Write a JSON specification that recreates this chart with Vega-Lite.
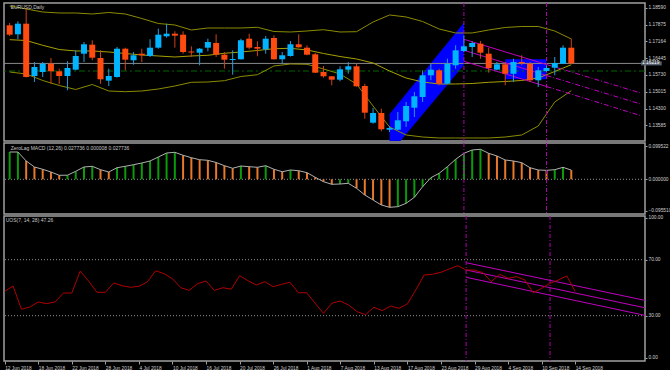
{
  "$schema": "https://vega.github.io/schema/vega-lite/v6.json",
  "background": "#000000",
  "padding": {"left": 1, "top": 1, "right": 0, "bottom": 0},
  "spacing": 2,
  "bounds": "flush",
  "config": {
    "view": {"stroke": "#a0a0a0", "strokeWidth": 1.5, "fill": "#000000"},
    "axis": {"labelFont": "Liberation Sans", "labelFontSize": 4.8, "labelColor": "#d0d0d0", "tickColor": "#a0a0a0", "domainColor": "#a0a0a0", "grid": false, "title": null, "labelOverlap": false},
    "text": {"font": "Liberation Sans", "fontSize": 5}
  },
  "datasets": {
    "candles": [
      {"i":0,"o":1.17841,"h":1.17939,"l":1.17386,"c":1.17441},
      {"i":1,"o":1.17458,"h":1.18012,"l":1.17246,"c":1.17909},
      {"i":2,"o":1.17909,"h":1.18548,"l":1.15620,"c":1.15641},
      {"i":3,"o":1.15684,"h":1.16279,"l":1.15428,"c":1.16067},
      {"i":4,"o":1.15854,"h":1.16279,"l":1.15641,"c":1.16207},
      {"i":5,"o":1.16207,"h":1.16450,"l":1.15356,"c":1.15884},
      {"i":6,"o":1.15884,"h":1.15994,"l":1.15330,"c":1.15684},
      {"i":7,"o":1.15684,"h":1.16309,"l":1.15075,"c":1.16024},
      {"i":8,"o":1.15952,"h":1.16777,"l":1.15926,"c":1.16535},
      {"i":9,"o":1.16633,"h":1.17131,"l":1.16279,"c":1.17033},
      {"i":10,"o":1.17016,"h":1.17203,"l":1.16352,"c":1.16462},
      {"i":11,"o":1.16450,"h":1.16777,"l":1.15356,"c":1.15543},
      {"i":12,"o":1.15484,"h":1.15994,"l":1.15258,"c":1.15684},
      {"i":13,"o":1.15641,"h":1.16918,"l":1.15620,"c":1.16845},
      {"i":14,"o":1.16845,"h":1.16888,"l":1.15926,"c":1.16377},
      {"i":15,"o":1.16352,"h":1.16705,"l":1.16164,"c":1.16565},
      {"i":16,"o":1.16633,"h":1.16845,"l":1.16279,"c":1.16565},
      {"i":17,"o":1.16535,"h":1.17246,"l":1.16492,"c":1.16888},
      {"i":18,"o":1.16888,"h":1.17697,"l":1.16845,"c":1.17441},
      {"i":19,"o":1.17373,"h":1.17909,"l":1.17314,"c":1.17484},
      {"i":20,"o":1.17484,"h":1.17586,"l":1.16888,"c":1.17399},
      {"i":21,"o":1.17441,"h":1.17586,"l":1.16633,"c":1.16705},
      {"i":22,"o":1.16726,"h":1.16948,"l":1.16492,"c":1.16684},
      {"i":23,"o":1.16675,"h":1.16875,"l":1.16139,"c":1.16845},
      {"i":24,"o":1.16888,"h":1.17271,"l":1.16735,"c":1.17131},
      {"i":25,"o":1.17088,"h":1.17458,"l":1.16492,"c":1.16590},
      {"i":26,"o":1.16590,"h":1.16705,"l":1.15994,"c":1.16377},
      {"i":27,"o":1.16365,"h":1.16777,"l":1.15739,"c":1.16407},
      {"i":28,"o":1.16394,"h":1.17271,"l":1.16386,"c":1.17203},
      {"i":29,"o":1.17271,"h":1.17484,"l":1.16820,"c":1.16888},
      {"i":30,"o":1.16918,"h":1.17160,"l":1.16522,"c":1.16845},
      {"i":31,"o":1.16820,"h":1.17386,"l":1.16633,"c":1.17271},
      {"i":32,"o":1.17301,"h":1.17416,"l":1.16386,"c":1.16394},
      {"i":33,"o":1.16394,"h":1.16705,"l":1.16207,"c":1.16565},
      {"i":34,"o":1.16535,"h":1.17173,"l":1.16513,"c":1.17033},
      {"i":35,"o":1.17033,"h":1.17458,"l":1.16888,"c":1.16905},
      {"i":36,"o":1.16888,"h":1.16990,"l":1.16565,"c":1.16590},
      {"i":37,"o":1.16607,"h":1.16662,"l":1.15811,"c":1.15824},
      {"i":38,"o":1.15854,"h":1.16109,"l":1.15611,"c":1.15671},
      {"i":39,"o":1.15671,"h":1.15684,"l":1.15288,"c":1.15526},
      {"i":40,"o":1.15526,"h":1.16096,"l":1.15458,"c":1.15969},
      {"i":41,"o":1.15952,"h":1.16279,"l":1.15781,"c":1.16096},
      {"i":42,"o":1.16096,"h":1.16207,"l":1.15237,"c":1.15245},
      {"i":43,"o":1.15258,"h":1.15356,"l":1.13866,"c":1.14122},
      {"i":44,"o":1.13696,"h":1.14322,"l":1.13653,"c":1.14109},
      {"i":45,"o":1.14109,"h":1.14292,"l":1.13330,"c":1.13415},
      {"i":46,"o":1.13398,"h":1.13556,"l":1.13300,"c":1.13470},
      {"i":47,"o":1.13398,"h":1.14151,"l":1.13385,"c":1.13798},
      {"i":48,"o":1.13756,"h":1.14577,"l":1.13513,"c":1.14407},
      {"i":49,"o":1.14334,"h":1.15003,"l":1.13939,"c":1.14820},
      {"i":50,"o":1.14790,"h":1.15926,"l":1.14577,"c":1.15713},
      {"i":51,"o":1.15713,"h":1.16207,"l":1.15501,"c":1.15952},
      {"i":52,"o":1.15926,"h":1.15994,"l":1.15288,"c":1.15356},
      {"i":53,"o":1.15356,"h":1.16420,"l":1.15343,"c":1.16207},
      {"i":54,"o":1.16139,"h":1.16990,"l":1.15994,"c":1.16777},
      {"i":55,"o":1.16748,"h":1.17416,"l":1.16705,"c":1.16948},
      {"i":56,"o":1.16918,"h":1.17160,"l":1.16492,"c":1.17088},
      {"i":57,"o":1.17058,"h":1.17173,"l":1.16420,"c":1.16675},
      {"i":58,"o":1.16633,"h":1.16888,"l":1.15824,"c":1.16024},
      {"i":59,"o":1.15952,"h":1.16279,"l":1.15926,"c":1.16182},
      {"i":60,"o":1.16182,"h":1.16279,"l":1.15288,"c":1.15781},
      {"i":61,"o":1.15781,"h":1.16420,"l":1.15428,"c":1.16279},
      {"i":62,"o":1.16279,"h":1.16565,"l":1.16139,"c":1.16224},
      {"i":63,"o":1.16207,"h":1.16279,"l":1.15428,"c":1.15501},
      {"i":64,"o":1.15501,"h":1.16067,"l":1.15215,"c":1.15926},
      {"i":65,"o":1.15896,"h":1.16139,"l":1.15854,"c":1.16024},
      {"i":66,"o":1.16037,"h":1.16492,"l":1.15713,"c":1.16237},
      {"i":67,"o":1.16207,"h":1.16990,"l":1.16194,"c":1.16888},
      {"i":68,"o":1.16888,"h":1.17271,"l":1.16194,"c":1.16219}
    ],
    "bands": [
      {"i":0,"u":1.18663,"m":1.17229,"l":1.15854},
      {"i":2,"u":1.18535,"m":1.17194,"l":1.15769},
      {"i":4,"u":1.18407,"m":1.16990,"l":1.15492},
      {"i":6,"u":1.18365,"m":1.16811,"l":1.15279},
      {"i":8,"u":1.18365,"m":1.16748,"l":1.15109},
      {"i":10,"u":1.18322,"m":1.16748,"l":1.15322},
      {"i":12,"u":1.18386,"m":1.16705,"l":1.15045},
      {"i":14,"u":1.18322,"m":1.16641,"l":1.15015},
      {"i":16,"u":1.18131,"m":1.16577,"l":1.15045},
      {"i":18,"u":1.17918,"m":1.16535,"l":1.15130},
      {"i":20,"u":1.17854,"m":1.16492,"l":1.15258},
      {"i":22,"u":1.17641,"m":1.16535,"l":1.15415},
      {"i":24,"u":1.17726,"m":1.16565,"l":1.15428},
      {"i":26,"u":1.17726,"m":1.16650,"l":1.15484},
      {"i":28,"u":1.17726,"m":1.16705,"l":1.15662},
      {"i":30,"u":1.17756,"m":1.16769,"l":1.15739},
      {"i":32,"u":1.17577,"m":1.16845,"l":1.16109},
      {"i":34,"u":1.17556,"m":1.16862,"l":1.16194},
      {"i":36,"u":1.17599,"m":1.16790,"l":1.16182},
      {"i":38,"u":1.17654,"m":1.16641,"l":1.15981},
      {"i":40,"u":1.17556,"m":1.16513,"l":1.15769},
      {"i":42,"u":1.17569,"m":1.16407,"l":1.15343},
      {"i":44,"u":1.17982,"m":1.16237,"l":1.14407},
      {"i":46,"u":1.18280,"m":1.15896,"l":1.13513},
      {"i":48,"u":1.18195,"m":1.15598,"l":1.13173},
      {"i":50,"u":1.18003,"m":1.15428,"l":1.13087},
      {"i":52,"u":1.17684,"m":1.15343,"l":1.13045},
      {"i":54,"u":1.17514,"m":1.15343,"l":1.13045},
      {"i":56,"u":1.17514,"m":1.15364,"l":1.13045},
      {"i":58,"u":1.17641,"m":1.15415,"l":1.13045},
      {"i":60,"u":1.17748,"m":1.15449,"l":1.13087},
      {"i":62,"u":1.17790,"m":1.15492,"l":1.13173},
      {"i":64,"u":1.17790,"m":1.15598,"l":1.13556},
      {"i":66,"u":1.17599,"m":1.15875,"l":1.14577},
      {"i":68,"u":1.17258,"m":1.16164,"l":1.15058}
    ],
    "macd": [
      {"i":0,"v":0.0823,"d":"up"},{"i":1,"v":0.0823,"d":"up"},{"i":2,"v":0.0552,"d":"down"},{"i":3,"v":0.0371,"d":"down"},
      {"i":4,"v":0.0302,"d":"down"},{"i":5,"v":0.0220,"d":"down"},{"i":6,"v":0.0121,"d":"down"},{"i":7,"v":0.0124,"d":"up"},
      {"i":8,"v":0.0241,"d":"up"},{"i":9,"v":0.0371,"d":"up"},{"i":10,"v":0.0392,"d":"up"},{"i":11,"v":0.0290,"d":"down"},
      {"i":12,"v":0.0220,"d":"down"},{"i":13,"v":0.0350,"d":"up"},{"i":14,"v":0.0392,"d":"up"},{"i":15,"v":0.0440,"d":"up"},
      {"i":16,"v":0.0492,"d":"up"},{"i":17,"v":0.0552,"d":"up"},{"i":18,"v":0.0673,"d":"up"},{"i":19,"v":0.0793,"d":"up"},
      {"i":20,"v":0.0814,"d":"up"},{"i":21,"v":0.0724,"d":"down"},{"i":22,"v":0.0651,"d":"down"},{"i":23,"v":0.0591,"d":"down"},
      {"i":24,"v":0.0573,"d":"down"},{"i":25,"v":0.0507,"d":"down"},{"i":26,"v":0.0410,"d":"down"},{"i":27,"v":0.0332,"d":"down"},
      {"i":28,"v":0.0401,"d":"up"},{"i":29,"v":0.0380,"d":"down"},{"i":30,"v":0.0362,"d":"down"},{"i":31,"v":0.0410,"d":"up"},
      {"i":32,"v":0.0302,"d":"down"},{"i":33,"v":0.0229,"d":"down"},{"i":34,"v":0.0280,"d":"up"},{"i":35,"v":0.0259,"d":"down"},
      {"i":36,"v":0.0199,"d":"down"},{"i":37,"v":0.0060,"d":"down"},{"i":38,"v":-0.0072,"d":"down"},{"i":39,"v":-0.0151,"d":"down"},
      {"i":40,"v":-0.0142,"d":"up"},{"i":41,"v":-0.0121,"d":"up"},{"i":42,"v":-0.0271,"d":"down"},{"i":43,"v":-0.0474,"d":"down"},
      {"i":44,"v":-0.0624,"d":"down"},{"i":45,"v":-0.0775,"d":"down"},{"i":46,"v":-0.0845,"d":"down"},{"i":47,"v":-0.0826,"d":"up"},
      {"i":48,"v":-0.0724,"d":"up"},{"i":49,"v":-0.0543,"d":"up"},{"i":50,"v":-0.0223,"d":"up"},{"i":51,"v":0.0048,"d":"up"},
      {"i":52,"v":0.0181,"d":"up"},{"i":53,"v":0.0380,"d":"up"},{"i":54,"v":0.0603,"d":"up"},{"i":55,"v":0.0784,"d":"up"},
      {"i":56,"v":0.0884,"d":"up"},{"i":57,"v":0.0905,"d":"up"},{"i":58,"v":0.0784,"d":"down"},{"i":59,"v":0.0703,"d":"down"},
      {"i":60,"v":0.0582,"d":"down"},{"i":61,"v":0.0552,"d":"down"},{"i":62,"v":0.0501,"d":"down"},{"i":63,"v":0.0350,"d":"down"},
      {"i":64,"v":0.0280,"d":"down"},{"i":65,"v":0.0271,"d":"down"},{"i":66,"v":0.0290,"d":"up"},{"i":67,"v":0.0362,"d":"up"},
      {"i":68,"v":0.0277,"d":"down"}
    ],
    "uos": [
      {"i":0,"v":47.3},{"i":1,"v":51.2},{"i":2,"v":34.6},{"i":3,"v":36.2},{"i":4,"v":39.8},{"i":5,"v":38.6},{"i":6,"v":39.8},
      {"i":7,"v":46.2},{"i":8,"v":46.2},{"i":9,"v":61.9},{"i":10,"v":54.8},{"i":11,"v":46.7},{"i":12,"v":46.7},{"i":13,"v":53.4},
      {"i":14,"v":51.4},{"i":15,"v":50.3},{"i":16,"v":51.0},{"i":17,"v":54.1},{"i":18,"v":62.1},{"i":19,"v":60.0},{"i":20,"v":56.4},
      {"i":21,"v":50.0},{"i":22,"v":48.1},{"i":23,"v":52.9},{"i":24,"v":54.8},{"i":25,"v":48.0},{"i":26,"v":50.0},{"i":27,"v":48.9},
      {"i":28,"v":58.6},{"i":29,"v":55.0},{"i":30,"v":51.9},{"i":31,"v":54.3},{"i":32,"v":50.7},{"i":33,"v":52.4},{"i":34,"v":53.9},
      {"i":35,"v":46.4},{"i":36,"v":46.4},{"i":37,"v":38.9},{"i":38,"v":31.7},{"i":39,"v":38.9},{"i":40,"v":40.5},{"i":41,"v":37.6},
      {"i":42,"v":32.9},{"i":43,"v":30.7},{"i":44,"v":36.0},{"i":45,"v":33.6},{"i":46,"v":36.9},{"i":47,"v":35.3},{"i":48,"v":38.4},
      {"i":49,"v":48.4},{"i":50,"v":59.1},{"i":51,"v":59.6},{"i":52,"v":61.0},{"i":53,"v":63.4},{"i":54,"v":65.7},{"i":55,"v":62.6},
      {"i":56,"v":62.6},{"i":57,"v":60.7},{"i":58,"v":54.3},{"i":59,"v":59.6},{"i":60,"v":56.7},{"i":61,"v":57.9},{"i":62,"v":55.5},
      {"i":63,"v":46.4},{"i":64,"v":49.6},{"i":65,"v":53.1},{"i":66,"v":55.5},{"i":67,"v":58.4},{"i":68,"v":47.26}
    ],
    "vlines": [{"i":55},{"i":65}]
  },
  "vconcat": [
    {
      "width": 641,
      "height": 138,
      "layer": [
        {
          "data": {"values": [{"i":46,"top":1.14066,"bot":1.12364},{"i":55,"top":1.17952,"bot":1.16152}]},
          "mark": {"type": "area", "color": "#0000ff", "opacity": 1, "clip": true},
          "encoding": {
            "x": {"field": "i", "type": "quantitative", "scale": {"domain": [-0.08, 76.32], "nice": false, "zero": false}, "axis": null},
            "y": {"field": "top", "type": "quantitative", "scale": {"domain": [1.12917, 1.18790], "nice": false, "zero": false},
                  "axis": {"orient": "right", "values": [1.18590, 1.17875, 1.17164, 1.16445, 1.15730, 1.15015, 1.14300, 1.13585], "tickCount": 100, "format": ".5f", "tickSize": 2, "labelPadding": 1, "domain": false, "labelOverlap": false}},
            "y2": {"field": "bot"}
          }
        },
        {
          "data": {"values": [{"i1":60,"i2":65,"p1":1.16394,"p2":1.15543}]},
          "mark": {"type": "rect", "color": "#0000ff"},
          "encoding": {
            "x": {"field": "i1", "type": "quantitative"},
            "x2": {"field": "i2"},
            "y": {"field": "p1", "type": "quantitative"},
            "y2": {"field": "p2"}
          }
        },
        {
          "data": {"values": [{"p": 1.15896}]},
          "mark": {"type": "rule", "color": "#006400", "strokeWidth": 1.2, "strokeDash": [6, 3, 2, 3]},
          "encoding": {"y": {"field": "p", "type": "quantitative"}}
        },
        {
          "data": {"values": [{"p": 1.16219}]},
          "mark": {"type": "rule", "color": "#8a8a8a", "strokeWidth": 1},
          "encoding": {"y": {"field": "p", "type": "quantitative"}}
        },
        {
          "data": {"name": "bands"},
          "mark": {"type": "line", "color": "#8b8b00", "strokeWidth": 1},
          "encoding": {"x": {"field": "i", "type": "quantitative"}, "y": {"field": "u", "type": "quantitative"}}
        },
        {
          "data": {"name": "bands"},
          "mark": {"type": "line", "color": "#a8a000", "strokeWidth": 1},
          "encoding": {"x": {"field": "i", "type": "quantitative"}, "y": {"field": "m", "type": "quantitative"}}
        },
        {
          "data": {"name": "bands"},
          "mark": {"type": "line", "color": "#8b8b00", "strokeWidth": 1},
          "encoding": {"x": {"field": "i", "type": "quantitative"}, "y": {"field": "l", "type": "quantitative"}}
        },
        {
          "data": {"values": [
            {"i":55,"ln":"A","p":1.17246},{"i":65,"ln":"A","p":1.16173},
            {"i":55,"ln":"B","p":1.16777},{"i":65,"ln":"B","p":1.15705},
            {"i":55,"ln":"C","p":1.16309},{"i":65,"ln":"C","p":1.15237}
          ]},
          "mark": {"type": "line", "color": "#c000c0", "strokeWidth": 1},
          "encoding": {"x": {"field": "i", "type": "quantitative"}, "y": {"field": "p", "type": "quantitative"}, "detail": {"field": "ln"}}
        },
        {
          "data": {"values": [
            {"i":65,"ln":"A","p":1.16173},{"i":76.32,"ln":"A","p":1.14969},
            {"i":65,"ln":"B","p":1.15705},{"i":76.32,"ln":"B","p":1.14500},
            {"i":65,"ln":"C","p":1.15237},{"i":76.32,"ln":"C","p":1.14007}
          ]},
          "mark": {"type": "line", "color": "#c000c0", "strokeWidth": 1, "strokeDash": [5, 2, 1, 2]},
          "encoding": {"x": {"field": "i", "type": "quantitative"}, "y": {"field": "p", "type": "quantitative"}, "detail": {"field": "ln"}}
        },
        {
          "data": {"name": "vlines"},
          "mark": {"type": "rule", "color": "#b000b0", "strokeWidth": 1, "strokeDash": [4, 2, 1, 2]},
          "encoding": {"x": {"field": "i", "type": "quantitative"}}
        },
        {
          "data": {"name": "candles"},
          "mark": {"type": "rule", "strokeWidth": 1},
          "encoding": {
            "x": {"field": "i", "type": "quantitative"},
            "y": {"field": "l", "type": "quantitative"},
            "y2": {"field": "h"},
            "color": {"condition": {"test": "datum.c > datum.o", "value": "#2a9ad8"}, "value": "#d0401a"}
          }
        },
        {
          "data": {"name": "candles"},
          "mark": {"type": "bar", "size": 6},
          "encoding": {
            "x": {"field": "i", "type": "quantitative"},
            "y": {"field": "o", "type": "quantitative"},
            "y2": {"field": "c"},
            "color": {"condition": {"test": "datum.c > datum.o", "value": "#00b4ff"}, "value": "#ff4a10"}
          }
        },
        {
          "data": {"values": [{}]},
          "mark": {"type": "text", "align": "left", "baseline": "middle", "color": "#c8c8c8", "dx": 1},
          "encoding": {"x": {"datum": 0}, "y": {"datum": 1.18633}, "text": {"value": "EURUSD,Daily"}}
        },
        {
          "data": {"values": [{}]},
          "mark": {"type": "rect", "color": "#56606e"},
          "encoding": {"x": {"datum": 76.45}, "x2": {"datum": 78.95}, "y": {"datum": 1.16304}, "y2": {"datum": 1.16134}}
        },
        {
          "data": {"values": [{}]},
          "mark": {"type": "text", "align": "left", "baseline": "middle", "color": "#ffffff", "dx": 1, "fontSize": 4.8},
          "encoding": {"x": {"datum": 76.45}, "y": {"datum": 1.16219}, "text": {"value": "1.16219"}}
        }
      ]
    },
    {
      "width": 641,
      "height": 71,
      "layer": [
        {
          "data": {"values": [{"z": 0}]},
          "mark": {"type": "rule", "color": "#909090", "strokeDash": [1, 2]},
          "encoding": {"y": {"field": "z", "type": "quantitative", "scale": {"domain": [-0.10466, 0.10948], "nice": false, "zero": false},
            "axis": {"orient": "right", "values": [0.099522, 0, -0.09551], "tickCount": 100, "format": ".6f", "tickSize": 2, "labelPadding": 1, "domain": false, "labelOverlap": false}}}
        },
        {
          "data": {"name": "macd"},
          "mark": {"type": "bar", "size": 2},
          "encoding": {
            "x": {"field": "i", "type": "quantitative", "scale": {"domain": [-0.08, 76.32], "nice": false, "zero": false}, "axis": null},
            "y": {"field": "v", "type": "quantitative"},
            "y2": {"datum": 0},
            "color": {"field": "d", "type": "nominal", "scale": {"domain": ["up", "down"], "range": ["#0a9a0a", "#e8782a"]}, "legend": null}
          }
        },
        {
          "data": {"name": "macd"},
          "mark": {"type": "line", "color": "#b0b0b0", "strokeWidth": 1},
          "encoding": {"x": {"field": "i", "type": "quantitative"}, "y": {"field": "v", "type": "quantitative"}}
        },
        {
          "data": {"name": "vlines"},
          "mark": {"type": "rule", "color": "#b000b0", "strokeWidth": 1, "strokeDash": [4, 2, 1, 2]},
          "encoding": {"x": {"field": "i", "type": "quantitative"}}
        },
        {
          "data": {"values": [{}]},
          "mark": {"type": "text", "align": "left", "baseline": "middle", "color": "#c8c8c8", "dx": 1},
          "encoding": {"x": {"datum": 0}, "y": {"datum": 0.0944}, "text": {"value": "ZeroLag MACD (12,26) 0.027736 0.000008 0.027736"}}
        }
      ]
    },
    {
      "width": 641,
      "height": 145,
      "layer": [
        {
          "data": {"values": [{"lv": 70}, {"lv": 30}]},
          "mark": {"type": "rule", "color": "#909090", "strokeDash": [1, 2]},
          "encoding": {"y": {"field": "lv", "type": "quantitative", "scale": {"domain": [-2.36, 101.21], "nice": false, "zero": false},
            "axis": {"orient": "right", "values": [100, 70, 30, 0], "tickCount": 100, "format": ".2f", "tickSize": 2, "labelPadding": 1, "domain": false, "labelOverlap": false}}}
        },
        {
          "data": {"values": [
            {"i":55,"ln":"U","v":67.86},{"i":76.32,"ln":"U","v":40.95},
            {"i":55,"ln":"M","v":62.64},{"i":76.32,"ln":"M","v":35.65},
            {"i":55,"ln":"L","v":57.43},{"i":76.32,"ln":"L","v":30.25}
          ]},
          "mark": {"type": "line", "color": "#c000c0", "strokeWidth": 1},
          "encoding": {"x": {"field": "i", "type": "quantitative"}, "y": {"field": "v", "type": "quantitative"}, "detail": {"field": "ln"}}
        },
        {
          "data": {"name": "uos"},
          "mark": {"type": "line", "color": "#b00000", "strokeWidth": 1},
          "encoding": {
            "x": {"field": "i", "type": "quantitative", "scale": {"domain": [-0.08, 76.32], "nice": false, "zero": false},
              "axis": {"orient": "bottom", "values": [0,4,8,12,16,20,24,28,32,36,40,44,48,52,56,60,64,68], "tickCount": 100,
                "labelExpr": "['12 Jun 2018','18 Jun 2018','22 Jun 2018','28 Jun 2018','4 Jul 2018','10 Jul 2018','16 Jul 2018','20 Jul 2018','26 Jul 2018','1 Aug 2018','7 Aug 2018','13 Aug 2018','17 Aug 2018','23 Aug 2018','29 Aug 2018','4 Sep 2018','10 Sep 2018','14 Sep 2018'][round(datum.value/4)]",
                "labelAlign": "left", "labelBaseline": "top", "labelPadding": 1, "tickSize": 3, "domain": false, "labelFlush": false, "labelOverlap": false}},
            "y": {"field": "v", "type": "quantitative"}
          }
        },
        {
          "data": {"name": "vlines"},
          "mark": {"type": "rule", "color": "#b000b0", "strokeWidth": 1, "strokeDash": [4, 2, 1, 2]},
          "encoding": {"x": {"field": "i", "type": "quantitative"}}
        },
        {
          "data": {"values": [{}]},
          "mark": {"type": "text", "align": "left", "baseline": "middle", "color": "#c8c8c8", "dx": 1},
          "encoding": {"x": {"datum": 0}, "y": {"datum": 98.1}, "text": {"value": "UOS(7, 14, 28) 47.26"}}
        }
      ]
    }
  ]
}
